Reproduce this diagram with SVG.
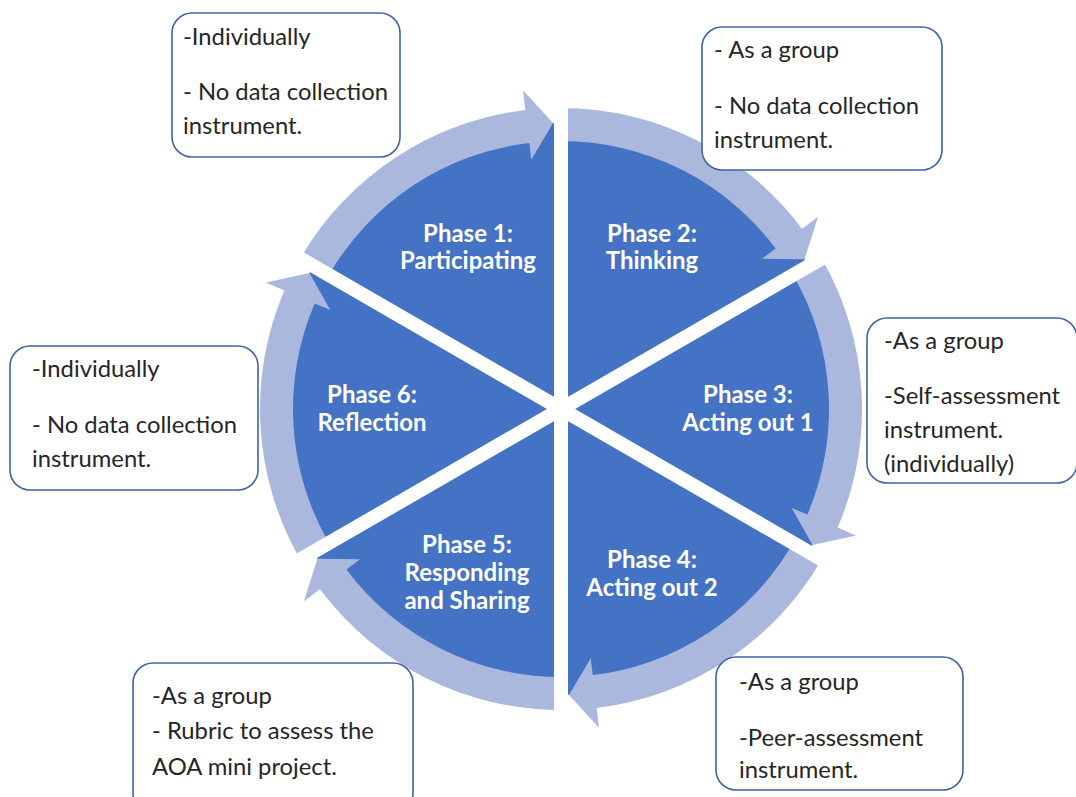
<svg xmlns="http://www.w3.org/2000/svg" xmlns:xlink="http://www.w3.org/1999/xlink" width="1076" height="797" viewBox="0 0 1076 797">
  <style>
    .wedge { fill: #4472C4; }
    .band { fill: #AAB8DD; }
    .sep { stroke: #FFFFFF; stroke-width: 14; stroke-linecap: butt; }
    .phase { font-family: Lato, "Liberation Sans", sans-serif; font-weight: bold; font-size: 24px; fill: #FFFFFF; text-anchor: middle; }
    .box { fill: #FFFFFF; stroke: #3F63A6; stroke-width: 1.6; }
    .note { font-family: Lato, "Liberation Sans", sans-serif; font-size: 23.8px; fill: #262626; }
  </style>
  <defs>
    <!-- one 60-degree pie wedge, upper-left sector (from -150 to -90 degrees) -->
    <path id="wedge" d="M561,409 L313.32,266 A286,286 0 0 1 561,123 Z"/>
    <!-- curved block arrow running along the outer edge of that wedge -->
    <path id="arc-arrow" d="M300.32,258.5 A301,301 0 0 1 525.36,110.12 L522.99,90.26 L553.01,123.11 L531.28,159.76 L529.27,142.88 A268,268 0 0 0 328.91,275 Z"/>
  </defs>

  <rect width="1076" height="797" fill="#FFFFFF"/>

  <!-- pie wedges -->
  <g id="wedges">
    <use xlink:href="#wedge" href="#wedge" class="wedge"/>
    <use xlink:href="#wedge" href="#wedge" class="wedge" transform="rotate(60 561 409)"/>
    <use xlink:href="#wedge" href="#wedge" class="wedge" transform="rotate(120 561 409)"/>
    <use xlink:href="#wedge" href="#wedge" class="wedge" transform="rotate(180 561 409)"/>
    <use xlink:href="#wedge" href="#wedge" class="wedge" transform="rotate(240 561 409)"/>
    <use xlink:href="#wedge" href="#wedge" class="wedge" transform="rotate(300 561 409)"/>
  </g>

  <!-- clockwise cycle arrows -->
  <g id="connectors">
    <use xlink:href="#arc-arrow" href="#arc-arrow" class="band"/>
    <use xlink:href="#arc-arrow" href="#arc-arrow" class="band" transform="rotate(60 561 409)"/>
    <use xlink:href="#arc-arrow" href="#arc-arrow" class="band" transform="rotate(120 561 409)"/>
    <use xlink:href="#arc-arrow" href="#arc-arrow" class="band" transform="rotate(180 561 409)"/>
    <use xlink:href="#arc-arrow" href="#arc-arrow" class="band" transform="rotate(240 561 409)"/>
    <use xlink:href="#arc-arrow" href="#arc-arrow" class="band" transform="rotate(300 561 409)"/>
  </g>

  <!-- white gaps between the segments -->
  <g id="separators" class="sep">
    <line x1="561" y1="105" x2="561" y2="713"/>
    <line x1="824.3" y1="257" x2="297.7" y2="561"/>
    <line x1="824.3" y1="561" x2="297.7" y2="257"/>
  </g>

  <!-- phase labels -->
  <g id="phase1">
    <text class="phase" x="468" y="242">Phase 1:</text>
    <text class="phase" x="468" y="269">Participating</text>
  </g>
  <g id="phase2">
    <text class="phase" x="652" y="242">Phase 2:</text>
    <text class="phase" x="652" y="269">Thinking</text>
  </g>
  <g id="phase3">
    <text class="phase" x="748" y="403">Phase 3:</text>
    <text class="phase" x="748" y="431">Acting out 1</text>
  </g>
  <g id="phase4">
    <text class="phase" x="652" y="568">Phase 4:</text>
    <text class="phase" x="652" y="596">Acting out 2</text>
  </g>
  <g id="phase5">
    <text class="phase" x="467" y="553">Phase 5:</text>
    <text class="phase" x="467" y="581">Responding</text>
    <text class="phase" x="467" y="609">and Sharing</text>
  </g>
  <g id="phase6">
    <text class="phase" x="372" y="403">Phase 6:</text>
    <text class="phase" x="372" y="431">Reflection</text>
  </g>

  <!-- note boxes -->
  <g id="note1">
    <rect class="box" x="172" y="13" width="228" height="144" rx="20"/>
    <text class="note" x="183" y="45">-Individually</text>
    <text class="note" x="183" y="100">- No data collection</text>
    <text class="note" x="183" y="134">instrument.</text>
  </g>
  <g id="note2">
    <rect class="box" x="702" y="27" width="240" height="143" rx="20"/>
    <text class="note" x="714" y="58">- As a group</text>
    <text class="note" x="714" y="114">- No data collection</text>
    <text class="note" x="714" y="148">instrument.</text>
  </g>
  <g id="note3">
    <rect class="box" x="867" y="318" width="210" height="165" rx="20"/>
    <text class="note" x="884" y="349">-As a group</text>
    <text class="note" x="884" y="404">-Self-assessment</text>
    <text class="note" x="884" y="438">instrument.</text>
    <text class="note" x="884" y="472">(individually)</text>
  </g>
  <g id="note4">
    <rect class="box" x="10" y="346" width="248" height="144" rx="20"/>
    <text class="note" x="32" y="377">-Individually</text>
    <text class="note" x="32" y="433">- No data collection</text>
    <text class="note" x="32" y="467">instrument.</text>
  </g>
  <g id="note5">
    <rect class="box" x="133" y="663" width="280" height="150" rx="20"/>
    <text class="note" x="152" y="704">-As a group</text>
    <text class="note" x="152" y="739">- Rubric to assess the</text>
    <text class="note" x="152" y="775">AOA mini project.</text>
  </g>
  <g id="note6">
    <rect class="box" x="716" y="657" width="247" height="133" rx="20"/>
    <text class="note" x="739" y="690">-As a group</text>
    <text class="note" x="739" y="746">-Peer-assessment</text>
    <text class="note" x="739" y="778">instrument.</text>
  </g>
</svg>
